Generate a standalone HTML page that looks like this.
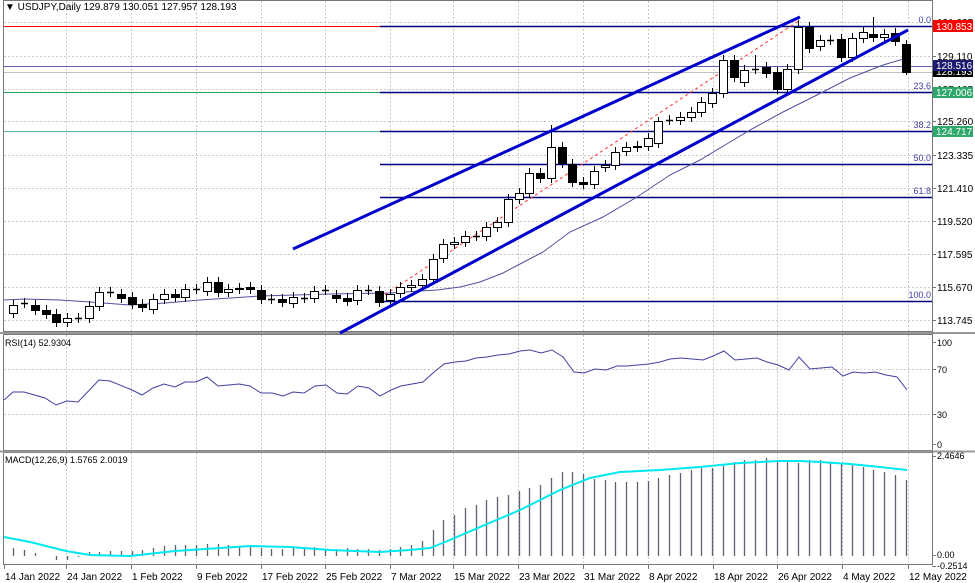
<!DOCTYPE html>
<html><head><meta charset="utf-8"><style>
html,body{margin:0;padding:0;background:#fff;}
svg{display:block;font-family:"Liberation Sans",sans-serif;}
</style></head><body>
<svg id="c" width="975" height="583" xmlns="http://www.w3.org/2000/svg">
<rect width="975" height="583" fill="#fff"/>
<g id="grid"></g>
<g id="main"></g>
</svg>
<script>
var S=document.getElementById('main'),G=document.getElementById('grid');
function el(p,t,a,txt){var e=document.createElementNS('http://www.w3.org/2000/svg',t);for(var k in a)e.setAttribute(k,a[k]);if(txt!==undefined)e.textContent=txt;p.appendChild(e);return e;}
function ln(p,x1,y1,x2,y2,c,w,d){var a={x1:x1,y1:y1,x2:x2,y2:y2,stroke:c,'stroke-width':w||1};if(d)a['stroke-dasharray']=d;return el(p,'line',a);}
function tx(p,x,y,s,c,sz,anc){return el(p,'text',{x:x,y:y,fill:c||'#000','font-size':sz||10,'text-anchor':anc||'start'},s);}
function pl(p,pts,c,w){el(p,'polyline',{points:pts.map(function(q){return q.join(',')}).join(' '),fill:'none',stroke:c,'stroke-width':w||1});}
var R=932;
// panel frames
el(G,'rect',{x:3.5,y:0.5,width:R-3,height:331,fill:'none',stroke:'#777'});
el(G,'rect',{x:3.5,y:334.5,width:R-3,height:116,fill:'none',stroke:'#777'});
el(G,'rect',{x:3.5,y:452.5,width:R-3,height:112,fill:'none',stroke:'#777'});
ln(G,0,333,975,333,'#999',2);ln(G,0,451.5,975,451.5,'#999',2);
// vertical grid
var dates=[[4,'14 Jan 2022'],[66,'24 Jan 2022'],[131,'1 Feb 2022'],[196,'9 Feb 2022'],[261,'17 Feb 2022'],[325,'25 Feb 2022'],[390,'7 Mar 2022'],[453,'15 Mar 2022'],[518,'23 Mar 2022'],[583,'31 Mar 2022'],[648,'8 Apr 2022'],[713,'18 Apr 2022'],[777,'26 Apr 2022'],[842,'4 May 2022'],[908,'12 May 2022']];
dates.forEach(function(d,i){if(i>0){ln(G,d[0]+0.5,1,d[0]+0.5,331,'#c8c8c8',1,'2,2');ln(G,d[0]+0.5,335,d[0]+0.5,451,'#c8c8c8',1,'2,2');ln(G,d[0]+0.5,453,d[0]+0.5,565,'#c8c8c8',1,'2,2');}
 ln(G,d[0]+0.5,565,d[0]+0.5,569,'#777');tx(G,d[0]+1,580,d[1],'#000',10);});
// price ticks
var pt=[[22,'131.035'],[56,'129.110'],[89,'127.185'],[121,'125.260'],[155,'123.335'],[188,'121.410'],[221,'119.520'],[254,'117.595'],[287,'115.670'],[320,'113.745']];
pt.forEach(function(p){ln(G,4,p[0]+0.5,R,p[0]+0.5,'#c8c8c8',1,'2,2');ln(G,R,p[0]+0.5,R+4,p[0]+0.5,'#777');tx(G,937,p[0]+4,p[1],'#000',10);});
// horizontal levels
ln(S,4,26.5,R,26.5,'#ff0000',1);ln(S,380,26.5,R,26.5,'#000080',1.5);
ln(S,4,66.5,R,66.5,'#6060b0',1);ln(S,4,72.5,R,72.5,'#c0c0c0',1);
ln(S,4,92.5,R,92.5,'#20a060',1);ln(S,380,92.5,R,92.5,'#000080',1.5);
ln(S,4,131.5,R,131.5,'#60c090',1);ln(S,380,131.5,R,131.5,'#000080',1.5);
[[164,'50.0'],[197,'61.8'],[301,'100.0']].forEach(function(f){ln(S,380,f[0]+0.5,R,f[0]+0.5,'#000080',1.5);});
[[23,'0.0'],[89,'23.6'],[128,'38.2'],[161,'50.0'],[194,'61.8'],[298,'100.0']].forEach(function(f){tx(S,R-1,f[0],f[1],'#4040a0',9,'end');});
// MA
pl(S,[[4,300],[25,299],[60,300],[90,302],[130,305],[165,303],[200,300],[260,296],[330,294],[390,293],[420,291],[437,290],[460,287],[480,282],[503,273],[520,264],[543,252],[570,232],[603,217],[637,197],[670,175],[700,160],[750,130],[783,112],[817,95],[850,78],[883,65],[907,58]],'#5050a0',1);
// red dashed
ln(S,380,298,800,20,'#ff3030',1,'3,3');
// candles [i,top,bottom,isBlack,wickTop,wickBot]
var c=[[1,305,313,0],[2,303,303,0],[3,305,310,1],[4,310,314,1],[5,314,322,1],[6,318,322,0],[7,318,318,0],[8,306,318,0],[9,292,306,0],[10,292,292,0],[11,294,298,1],[12,297,304,1],[13,304,307,1],[14,299,309,0],[15,294,299,0],[16,294,297,1],[17,289,297,0],[18,289,289,0],[19,282,291,0],[20,282,292,1],[21,289,292,0],[22,288,289,0],[23,287,289,1],[24,290,299,1],[25,299,299,0],[26,299,302,1],[27,297,303,0],[28,298,298,0],[29,291,298,0],[30,290,290,0],[31,295,298,1],[32,298,301,1],[33,290,300,0],[34,290,290,0],[35,291,302,1],[36,294,300,0],[37,287,293,0],[38,285,287,0],[39,279,285,0],[40,259,279,0],[41,244,258,0],[42,242,244,0],[43,236,242,0],[44,236,236,0],[45,227,236,0],[46,222,227,0],[47,199,222,0],[48,193,199,0],[49,173,193,0],[50,173,178,1],[51,147,178,0],[52,147,163,1],[53,164,182,1],[54,182,184,1],[55,171,184,0],[56,165,167,0],[57,152,165,0],[58,147,151,0],[59,146,147,0],[60,138,146,0],[61,121,143,0],[62,120,120,0],[63,117,120,0],[64,112,117,0],[65,102,112,0],[66,93,103,0],[67,60,93,0],[68,60,77,1],[69,70,82,0],[70,69,69,0],[71,67,73,1],[72,72,89,1],[73,69,89,0],[74,27,69,0],[75,27,48,1],[76,40,46,0],[77,40,40,0],[78,39,57,1],[79,38,57,0],[80,32,38,0],[81,34,37,1],[82,34,37,0],[83,33,41,1],[84,44,72,1]];
var wk={51:125,81:17,74:20,84:40,70:55,61:117,83:28};
c.forEach(function(k){var x=Math.round(2.5+10.75*k[0])+0.5;var t=k[1],b=k[2];var wt=wk[k[0]]||t-5,wb=b+5;if(k[0]==84)wb=75;
 ln(S,x,wt,x,wb,'#000',1);
 if(b-t<1){ln(S,x-3.5,t+0.5,x+3.5,t+0.5,'#000',1.5);}
 else el(S,'rect',{x:x-4,y:t+0.5,width:8,height:b-t,fill:k[3]?'#000':'#fff',stroke:'#000','stroke-width':1});});
// channel lines
ln(S,293,249,800,17,'#0000cc',3);ln(S,340,333,908,30,'#0000cc',3);
// price labels
function box(y,h,col,s,tc){el(S,'rect',{x:933,y:y,width:40,height:h,fill:col});tx(S,936,y+h-2,s,tc||'#fff',10);}
box(20,12,'#ff0000','130.853');box(67,10,'#000','128.193');box(60,11,'#1a1a6e','128.516');box(87,11,'#2ea86a','127.006');box(126,11,'#2ea86a','124.717');
// title
tx(S,5,10,'\u25BC USDJPY,Daily  129.879 130.051 127.957 128.193','#000',10);
ln(S,R+0.5,0,R+0.5,565,'#777');
// RSI
[[342,'100'],[369,'70'],[414,'30'],[444,'0']].forEach(function(r,i){if(i==1||i==2)ln(G,4,r[0]+0.5,R,r[0]+0.5,'#c8c8c8',1,'2,2');ln(G,R,r[0]+0.5,R+4,r[0]+0.5,'#777');tx(G,937,r[0]+4,r[1],'#000',9);});
tx(S,5,346,'RSI(14) 52.9304','#000',9);
pl(S,[[4,400],[13,392],[24,392],[45,398],[56,405],[67,401],[78,402],[99,380],[110,381],[132,390],[142,395],[153,388],[164,384],[175,387],[185,382],[196,382],[207,377],[218,386],[239,384],[250,386],[261,393],[272,393],[283,396],[293,392],[304,393],[315,386],[326,385],[337,393],[347,394],[358,386],[369,388],[380,396],[391,390],[401,386],[412,384],[423,382],[433,373],[444,364],[455,362],[466,361],[476,358],[487,357],[498,355],[509,354],[520,351],[530,350],[541,353],[552,350],[563,357],[574,372],[584,373],[595,369],[606,370],[617,366],[627,366],[638,365],[649,364],[660,362],[670,359],[681,358],[692,359],[703,360],[713,356],[724,351],[735,360],[746,359],[757,358],[767,362],[778,365],[789,370],[799,357],[810,369],[821,368],[832,367],[843,376],[853,372],[864,373],[875,372],[886,375],[897,377],[907,390]],'#4040a0',1);
// MACD
[[456,'2.4646'],[555,'0.00'],[566,'-0.2514']].forEach(function(r){tx(G,937,r[0]+3,r[1],'#000',9);ln(G,R,r[0]+0.5,R+4,r[0]+0.5,'#777');});
tx(S,5,463,'MACD(12,26,9) 1.5765 2.0019','#000',9);
var h=[548,548,550,553,556,560,560,557,552,552,551,551,551,550,548,546,545,545,545,544,544,545,547,547,548,549,549,548,547,547,549,549,548,549,549,550,549,547,545,541,530,520,515,508,505,500,497,495,491,488,485,478,472,472,474,479,480,482,482,482,481,478,475,473,470,468,468,466,462,460,460,458,460,462,463,460,460,462,463,465,467,470,472,475,480,488];
for(var i=1;i<=84;i++){var x=Math.round(2.5+10.75*i)+0.5;ln(S,x,556,x,h[i],'#606070',1.3);}
pl(S,[[4,537],[30,542],[66,551],[90,555],[130,556],[175,551],[250,546],[290,547],[330,550],[380,552],[410,550],[430,548],[450,540],[480,527],[520,510],[560,490],[590,478],[620,472],[660,470],[700,467],[740,463],[780,461],[800,461],[820,462],[850,464],[880,467],[907,470]],'#00e8f0',2);
</script>
</body></html>
